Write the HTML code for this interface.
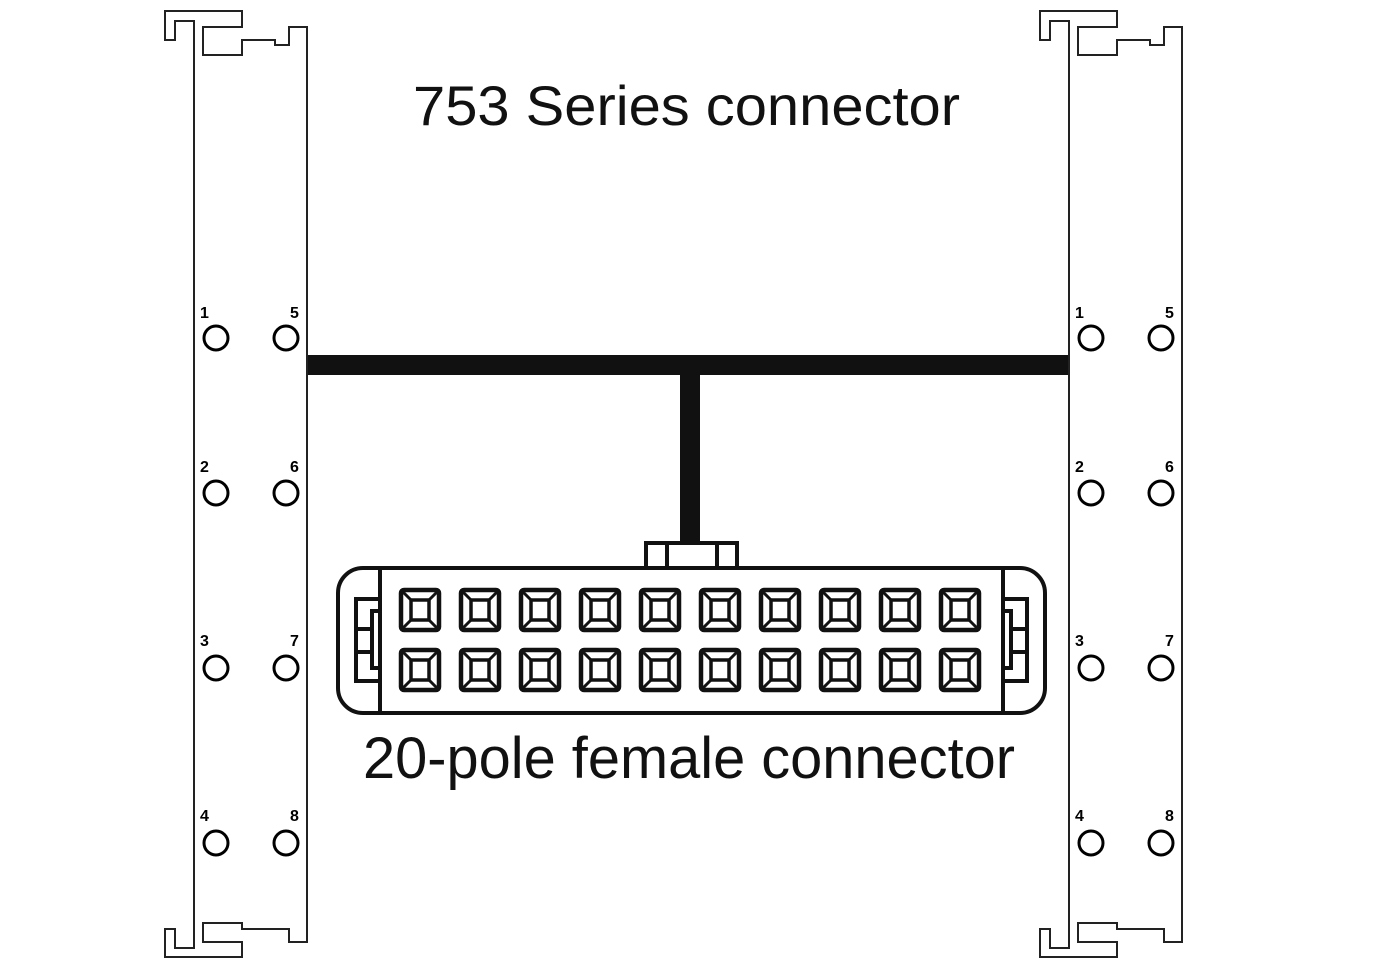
<!DOCTYPE html>
<html><head><style>
html,body{margin:0;padding:0;background:#fff;width:1396px;height:968px;overflow:hidden}
text{font-family:"Liberation Sans",sans-serif}
</style></head><body>
<svg width="1396" height="968" viewBox="0 0 1396 968" xmlns="http://www.w3.org/2000/svg">
<defs>
<g id="rail" fill="none" stroke="#222" stroke-width="2">
<path d="M194,294 V21 H175 V40 H165 V11 H242 V27 H203 V55 H242 V40 H275 V45 H289 V27 H307 V942 H289 V929 H242 V923 H203 V942 H242 V957 H165 V929 H175 V948 H194 V294"/>
<g stroke="#000" stroke-width="3">
<circle cx="216" cy="338" r="12"/><circle cx="286" cy="338" r="12"/>
<circle cx="216" cy="493" r="12"/><circle cx="286" cy="493" r="12"/>
<circle cx="216" cy="668" r="12"/><circle cx="286" cy="668" r="12"/>
<circle cx="216" cy="843" r="12"/><circle cx="286" cy="843" r="12"/>
</g>
<g fill="#000" stroke="none" font-size="16" font-weight="bold" font-family="Liberation Sans,sans-serif">
<text x="200" y="318">1</text><text x="290" y="318">5</text>
<text x="200" y="472">2</text><text x="290" y="472">6</text>
<text x="200" y="646">3</text><text x="290" y="646">7</text>
<text x="200" y="821">4</text><text x="290" y="821">8</text>
</g>
</g>
<g id="sq" fill="none" stroke="#111">
<rect x="2" y="2" width="38" height="40" rx="3" stroke-width="4.5"/>
<rect x="12" y="12" width="18" height="20" stroke-width="3.5"/>
<path d="M4,4 L12,12 M38,4 L30,12 M4,40 L12,32 M38,40 L30,32" stroke-width="3"/>
</g>
</defs>
<use href="#rail"/>
<use href="#rail" transform="translate(875,0)"/>
<text x="413" y="125" font-size="56" fill="#111" textLength="547" lengthAdjust="spacingAndGlyphs">753 Series connector</text>
<rect x="308" y="355" width="760" height="20" fill="#111"/>
<rect x="680" y="365" width="20" height="178" fill="#111"/>
<g fill="none" stroke="#111" stroke-width="4">
<path d="M646,567 V543 H737 V567"/>
<path d="M667,567 V543 M717,567 V543"/>
<rect x="338" y="568" width="707" height="145" rx="25"/>
<path d="M380,568 V713 M1003,568 V713"/>
<path d="M380,599 H356 V681 H380 M380,599 V611 H372 V668 H380 V681 M356,629 H372 M356,652 H372"/>
<path d="M1003,599 H1027 V681 H1003 M1003,599 V611 H1011 V668 H1003 V681 M1027,629 H1011 M1027,652 H1011"/>
</g>
<g>
<use href="#sq" x="399" y="588"/><use href="#sq" x="459" y="588"/><use href="#sq" x="519" y="588"/><use href="#sq" x="579" y="588"/><use href="#sq" x="639" y="588"/><use href="#sq" x="699" y="588"/><use href="#sq" x="759" y="588"/><use href="#sq" x="819" y="588"/><use href="#sq" x="879" y="588"/><use href="#sq" x="939" y="588"/>
<use href="#sq" x="399" y="648"/><use href="#sq" x="459" y="648"/><use href="#sq" x="519" y="648"/><use href="#sq" x="579" y="648"/><use href="#sq" x="639" y="648"/><use href="#sq" x="699" y="648"/><use href="#sq" x="759" y="648"/><use href="#sq" x="819" y="648"/><use href="#sq" x="879" y="648"/><use href="#sq" x="939" y="648"/>
</g>
<text x="363" y="778" font-size="58" fill="#111" textLength="652" lengthAdjust="spacingAndGlyphs">20-pole female connector</text>
</svg>
</body></html>
